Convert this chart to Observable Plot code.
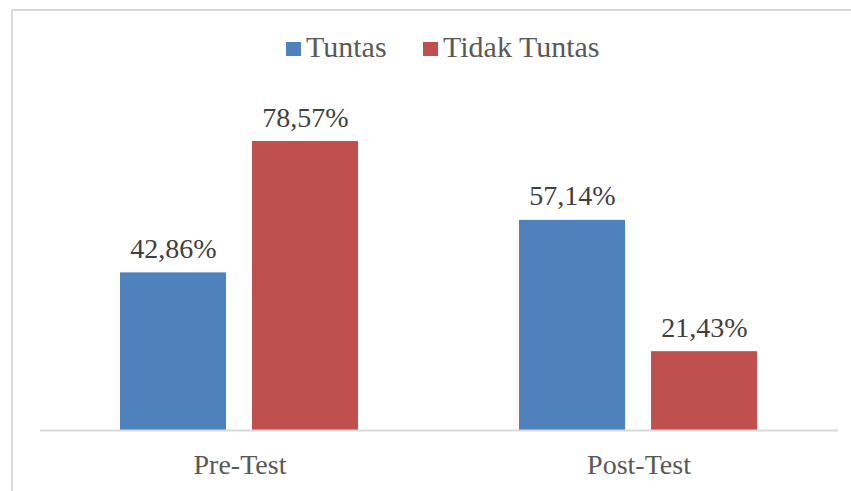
<!DOCTYPE html>
<html>
<head>
<meta charset="utf-8">
<script src="https://cdn.jsdelivr.net/npm/d3@7"></script>
<script src="https://cdn.jsdelivr.net/npm/@observablehq/plot@0.6"></script>
<style>
  html, body { margin: 0; padding: 0; background: #fff; overflow: hidden; }
  #wrap { position: relative; width: 851px; height: 491px; }
  #border { position: absolute; left: 11px; top: 9px; width: 900px; height: 600px;
            border: 2px solid #d9d9d9; box-sizing: border-box; pointer-events: none; }
  #legend { position: absolute; left: 0; top: 0; width: 851px; height: 80px;
            font-family: "Liberation Serif", "Times New Roman", serif; font-size: 30px; color: #595959; }
  .sw { position: absolute; width: 15px; height: 14px; }
  .lt { position: absolute; line-height: 28px; white-space: nowrap; }
</style>
</head>
<body>
<div id="wrap">
  <div id="chart"></div>
  <div id="legend"></div>
  <div id="border"></div>
</div>
<script>
const tests = ["Pre-Test", "Post-Test"];
const statuses = ["Tuntas", "Tidak Tuntas"];
const tuntas = [42.86, 57.14];
const tidakTuntas = [78.57, 21.43];
const colors = ["#4F81BD", "#C0504D"];

const seriesValues = [tuntas, tidakTuntas];
const rows = [];
tests.forEach((t, i) => {
  statuses.forEach((s, j) => rows.push({test: t, status: s, value: seriesValues[j][i]}));
});
const fmt = v => v.toFixed(2).replace(".", ",") + "%";

const chart = Plot.plot({
  width: 851,
  height: 491,
  marginLeft: 39,
  marginRight: 13,
  marginTop: 99,
  marginBottom: 61,
  fx: {domain: tests, padding: 0, axis: null},
  x: {domain: statuses, paddingInner: 0.196, paddingOuter: 0.606, axis: null},
  y: {domain: [0, 90], axis: null},
  color: {domain: statuses, range: colors},
  style: {fontFamily: "Liberation Serif, Times New Roman, serif", background: "transparent"},
  marks: [
    Plot.barY(rows, {fx: "test", x: "status", y: "value", fill: "status"}),
    Plot.ruleY([0], {stroke: "#d9d9d9", strokeWidth: 2}),
    Plot.text(rows, {fx: "test", x: "status", y: "value", text: d => fmt(d.value),
      dy: -15, lineAnchor: "bottom", fontSize: 28, fill: "#404040"}),
    Plot.text(tests, {fx: d => d, text: d => d, frameAnchor: "bottom",
      dy: 43, lineAnchor: "bottom", fontSize: 28, fill: "#595959"})
  ]
});
document.getElementById("chart").appendChild(chart);

// legend (HTML, built from the same arrays)
const legend = document.getElementById("legend");
const swatchX = [286, 423];
statuses.forEach((s, i) => {
  const sw = document.createElement("div");
  sw.className = "sw";
  sw.style.left = swatchX[i] + "px";
  sw.style.top = "42px";
  sw.style.background = colors[i];
  legend.appendChild(sw);
  const t = document.createElement("div");
  t.className = "lt";
  t.style.left = (swatchX[i] + 20) + "px";
  t.style.top = "33px";
  t.textContent = s;
  legend.appendChild(t);
});
</script>
</body>
</html>
